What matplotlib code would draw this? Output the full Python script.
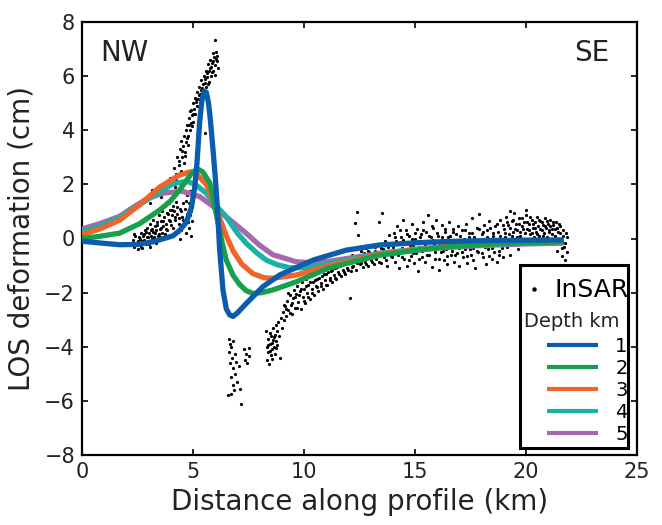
import matplotlib
matplotlib.use("Agg")
import matplotlib.pyplot as plt
from matplotlib.patches import Rectangle

plt.rcParams['font.family'] = ['DejaVu Sans']

# ---------------- data ----------------
depth_labels = ['1', '2', '3', '4', '5']
depth_colors = ['#0b5cad', '#17a04b', '#f0642a', '#19b2a6', '#a469ae']

depth1_x = [0, 1.0, 1.7, 2.5, 3.2, 3.7, 4.1, 4.4, 4.7, 4.93, 5.08, 5.18, 5.3, 5.4, 5.5, 5.6, 5.7, 5.78, 5.9, 6.0, 6.1, 6.2, 6.35, 6.5, 6.65, 6.8, 7.0, 7.4, 8.15, 8.9, 10.4, 11.9, 13.4, 15.0, 16.4, 18.0, 20.0, 21.7]
depth1_y = [-0.1, -0.18, -0.23, -0.22, -0.12, 0.0, 0.1, 0.3, 0.6, 1.15, 1.9, 2.8, 4.3, 5.1, 5.45, 5.4, 5.0, 4.4, 3.3, 2.3, 1.1, -0.4, -1.9, -2.6, -2.82, -2.88, -2.75, -2.4, -1.78, -1.35, -0.8, -0.43, -0.24, -0.16, -0.11, -0.08, -0.06, -0.05]

depth2_x = [0, 0.8, 1.7, 2.6, 3.5, 4.0, 4.4, 4.93, 5.2, 5.45, 5.76, 6.06, 6.3, 6.5, 6.8, 7.1, 7.4, 7.7, 8.1, 8.6, 9.65, 11.15, 13.4, 15.0, 16.4, 18.0, 20.0, 21.7]
depth2_y = [0.0, 0.08, 0.2, 0.55, 1.05, 1.4, 1.8, 2.4, 2.58, 2.45, 2.05, 0.85, -0.1, -0.8, -1.35, -1.7, -1.93, -2.03, -2.0, -1.9, -1.6, -1.08, -0.62, -0.44, -0.32, -0.22, -0.15, -0.12]

depth3_x = [0, 0.8, 1.7, 2.6, 3.5, 4.4, 4.9, 5.2, 5.6, 5.9, 6.2, 6.5, 6.8, 7.2, 7.7, 8.2, 8.6, 9.65, 11.15, 13.4, 15.0, 16.4, 18.0, 20.0, 21.7]
depth3_y = [0.15, 0.35, 0.68, 1.25, 1.9, 2.35, 2.47, 2.35, 2.0, 1.4, 0.75, 0.1, -0.45, -0.95, -1.3, -1.45, -1.47, -1.35, -1.0, -0.58, -0.42, -0.3, -0.21, -0.15, -0.12]

depth4_x = [0, 0.8, 1.7, 2.6, 3.2, 4.1, 4.7, 5.1, 5.6, 6.0, 6.5, 7.0, 7.4, 7.9, 8.3, 8.8, 9.35, 10.2, 11.15, 13.4, 15.0, 16.4, 18.0, 20.0, 21.7]
depth4_y = [0.25, 0.45, 0.78, 1.25, 1.58, 2.02, 2.12, 2.0, 1.67, 1.25, 0.8, 0.2, -0.18, -0.55, -0.8, -0.97, -1.08, -1.08, -0.93, -0.55, -0.4, -0.3, -0.22, -0.16, -0.13]

depth5_x = [0, 0.8, 1.7, 2.3, 2.9, 3.6, 4.5, 5.3, 5.8, 6.2, 6.8, 7.4, 8.0, 8.6, 9.65, 10.4, 11.15, 13.4, 15.0, 16.4, 18.0, 20.0, 21.7]
depth5_y = [0.35, 0.55, 0.82, 1.15, 1.45, 1.67, 1.75, 1.55, 1.25, 0.99, 0.6, 0.19, -0.25, -0.6, -0.86, -0.9, -0.84, -0.55, -0.42, -0.33, -0.26, -0.2, -0.17]

# InSAR points (x km, y cm)
insar_west = [
    (2.30,-0.05),(2.35,-0.30),(2.40,0.10),(2.45,-0.15),(2.50,-0.40),(2.55,0.05),(2.60,-0.25),(2.65,0.20),
    (2.70,-0.10),(2.72,-0.35),(2.78,0.15),(2.80,-0.05),(2.85,0.30),(2.88,-0.20),(2.92,0.05),(2.95,0.40),
    (3.00,-0.10),(3.02,0.20),(3.05,-0.30),(3.08,0.55),(3.10,0.10),(3.15,0.35),(3.18,-0.05),(3.20,0.25),
    (3.22,0.70),(3.25,0.05),(3.30,0.45),(3.32,-0.15),(3.35,0.30),(3.40,0.60),(3.42,0.10),(3.45,0.85),
    (3.50,0.35),(3.52,0.05),(3.55,0.65),(3.60,0.20),(3.62,1.00),(3.65,0.45),(3.70,0.80),(3.72,0.15),
    (3.75,1.20),(3.80,0.55),(3.82,0.95),(3.85,0.30),(3.90,1.30),(3.92,0.70),(3.95,1.05),(4.00,0.50),
    (4.02,1.50),(4.05,0.85),(4.10,1.20),(4.12,0.40),(4.15,1.00),(4.20,0.70),(4.25,1.35),(4.30,0.90),
    (4.35,0.55),(4.40,1.10),(3.15,1.80),(2.95,1.45),(3.55,1.55),(3.95,2.25),(3.05,1.30),
    (4.45,0.30),(4.50,0.80),(4.55,1.30),(4.60,0.55),(4.65,1.10),(4.70,0.20),(4.72,1.60),(4.75,0.90),
    (4.80,1.30),(4.82,0.40),(4.85,1.75),(4.90,1.00),(4.92,0.10),(4.95,0.65),(4.40,0.00),
    (2.33,0.15),(2.42,-0.25),(2.52,-0.10),(2.62,0.00),(2.68,-0.30),(2.75,0.10),(2.83,-0.15),(2.90,0.25),
    (2.98,0.05),(3.03,-0.20),(3.12,0.30),(3.17,0.00),(3.27,0.20),(3.37,0.50),(3.47,0.15),(3.57,0.40),
    (3.67,0.65),(3.77,0.35),(3.87,0.90),(3.97,0.65),(4.07,1.05),(4.17,0.80),(4.27,1.15),(4.37,0.75),
    (4.47,1.00),(4.57,0.70),(4.67,1.40),(4.77,0.60),(4.87,0.85),
]
insar_peak = [
    (4.10,2.20),(4.15,2.60),(4.20,1.90),(4.25,2.40),(4.30,3.00),(4.32,2.10),(4.38,2.70),(4.40,3.30),
    (4.45,2.50),(4.48,3.60),(4.50,3.00),(4.55,3.40),(4.58,2.80),(4.60,3.80),(4.65,3.20),(4.68,4.00),
    (4.70,3.55),(4.75,4.20),(4.78,3.80),(4.80,4.45),(4.85,4.00),(4.88,4.70),(4.90,4.25),(4.95,4.55),
    (4.98,5.00),(5.00,4.30),(5.05,4.80),(5.08,5.20),(5.10,4.60),(5.15,5.05),(5.18,5.40),(5.20,4.90),
    (5.25,5.30),(5.28,5.60),(5.30,5.10),(5.35,5.50),(5.38,5.85),(5.40,5.25),(5.45,5.70),(5.48,6.00),
    (5.50,5.40),(5.55,5.90),(5.58,6.20),(5.60,5.60),(5.65,6.10),(5.68,6.45),(5.70,5.80),(5.75,6.30),
    (5.78,6.60),(5.80,6.00),(5.85,6.50),(5.88,6.85),(5.90,6.20),(5.95,6.70),(5.98,7.33),(6.00,6.40),
    (6.05,6.90),(6.08,6.55),(6.10,6.75),(6.12,6.30),(5.53,3.90),
    (4.22,2.15),(4.35,2.85),(4.42,2.35),(4.52,3.25),(4.62,3.05),(4.72,3.70),(4.82,4.20),(4.92,4.75),
    (5.02,4.60),(5.12,5.15),(5.22,5.15),(5.32,5.35),(5.42,5.55),(5.52,5.75),(5.62,5.95),(5.72,6.20),
    (5.82,6.35),(5.92,6.55),(6.02,6.65),(5.87,6.15),(5.97,6.05),(5.67,5.70),(5.47,5.35),(4.97,4.15),
    (4.77,3.45),
]
insar_trough = [
    (6.60,-3.70),(6.62,-4.20),(6.65,-3.90),(6.68,-4.60),(6.70,-5.10),(6.72,-4.00),(6.75,-4.40),(6.78,-5.40),
    (6.80,-3.80),(6.82,-4.80),(6.85,-5.60),(6.88,-4.25),(6.90,-5.00),(6.95,-4.55),(7.00,-5.30),(7.05,-4.70),
    (7.10,-5.55),(7.18,-6.12),(7.30,-4.10),(7.35,-4.50),(7.40,-4.25),(7.45,-4.60),(7.50,-4.05),(7.52,-4.35),
    (6.58,-5.80),(6.70,-5.75),
    (8.30,-3.40),(8.32,-4.00),(8.35,-4.50),(8.38,-3.70),(8.40,-4.20),(8.42,-4.65),(8.45,-3.50),(8.48,-3.90),
    (8.50,-4.30),(8.52,-3.60),(8.55,-4.10),(8.58,-4.45),(8.60,-3.75),(8.62,-3.30),(8.65,-4.00),(8.68,-3.55),
    (8.70,-4.25),(8.72,-3.20),(8.75,-3.80),(8.78,-3.40),(8.80,-3.95),(8.85,-3.10),(8.88,-3.60),(8.90,-4.40),
    (8.95,-2.95),(9.00,-3.30),(8.36,-3.95),(8.46,-4.15),(8.56,-3.85),(8.66,-3.65),(8.76,-4.05),
]
insar_rise = [
    (9.05,-2.70),(9.10,-3.00),(9.15,-2.50),(9.20,-2.85),(9.25,-2.30),(9.30,-2.65),(9.35,-2.10),(9.40,-2.45),
    (9.45,-2.80),(9.50,-2.20),(9.55,-1.90),(9.60,-2.55),(9.65,-2.05),(9.70,-1.75),(9.75,-2.35),(9.80,-1.95),
    (9.85,-2.60),(9.90,-1.60),(9.95,-2.15),(10.00,-1.85),(10.05,-2.40),(10.10,-1.50),(10.15,-2.00),(10.20,-1.70),
    (10.25,-2.25),(10.30,-1.40),(10.35,-1.85),(10.40,-1.60),(10.45,-2.10),(10.50,-1.30),(10.55,-1.75),(10.60,-1.50),
    (10.65,-1.95),(10.70,-1.20),(10.75,-1.65),(10.80,-1.40),(10.85,-1.85),(10.90,-1.10),(10.95,-1.55),(11.00,-1.30),
    (11.05,-1.70),(11.10,-1.00),(11.15,-1.45),(11.20,-1.20),(11.25,-1.60),(11.30,-0.90),(11.35,-1.35),(11.40,-1.10),
    (11.45,-1.50),(11.50,-0.85),(11.55,-1.25),(11.60,-1.00),(11.65,-1.40),(11.70,-0.75),(11.75,-1.15),(11.80,-0.95),
    (11.85,-1.30),(11.90,-0.70),(11.95,-1.10),(12.00,-0.85),(12.05,-2.20),(12.10,-1.20),(12.15,-0.60),(12.20,-1.00),
    (12.25,-0.80),(12.30,0.57),(12.35,-1.15),(12.40,0.98),(12.42,0.13),(12.45,-0.65),(12.50,-0.95),(12.55,-0.45),
    (12.60,-0.80),(12.65,-1.05),(12.70,-0.55),(12.75,-0.85),(12.80,-0.35),(12.85,-0.70),(12.90,-1.00),(12.95,-0.50),
    (13.00,-0.80),(13.05,-0.25),(13.10,-0.65),(13.15,-0.95),(13.20,-0.45),(13.25,-0.75),(13.30,-0.20),(13.35,-0.60),
    (13.40,0.60),(13.45,-0.90),(13.50,0.94),(13.55,-0.40),(13.60,-0.70),(13.65,-0.10),(13.70,-0.55),(13.75,-1.00),
    (13.80,-0.30),(13.85,0.13),(13.90,-0.65),(13.95,-0.20),
    (9.08,-2.45),(9.18,-2.60),(9.28,-2.00),(9.38,-2.75),(9.48,-2.40),(9.58,-2.15),(9.68,-2.55),(9.78,-2.10),
    (9.88,-1.85),(9.98,-2.30),(10.08,-1.75),(10.18,-2.15),(10.28,-1.60),(10.38,-2.00),(10.48,-1.55),(10.58,-1.80),
    (10.68,-1.45),(10.78,-1.75),(10.88,-1.30),(10.98,-1.70),(11.08,-1.25),(11.18,-1.55),(11.28,-1.15),(11.38,-1.45),
    (11.48,-1.05),(11.58,-1.30),(11.68,-0.95),(11.78,-1.25),(11.88,-0.90),(11.98,-1.15),(12.08,-0.75),(12.18,-1.05),
    (12.28,-0.70),(12.38,-0.90),(12.48,-0.60),(12.58,-0.90),(12.68,-0.70),(12.78,-0.95),(12.88,-0.45),(12.98,-0.65),
    (13.08,-0.85),(13.18,-0.30),(13.28,-0.55),(13.38,-0.85),(13.48,-0.35),(13.58,-0.50),(13.68,-0.80),(13.78,-0.15),
    (13.88,-0.45),(13.98,-0.70),
]
insar_east = [
    (14.00,-0.50),(14.05,0.20),(14.10,-0.85),(14.15,-0.10),(14.20,0.45),(14.25,-0.60),(14.30,-1.10),(14.35,0.05),
    (14.40,-0.35),(14.45,0.70),(14.50,-0.75),(14.55,-0.15),(14.60,0.30),(14.65,-1.00),(14.70,-0.45),(14.75,0.10),
    (14.80,-0.65),(14.85,0.55),(14.90,-0.25),(14.95,-0.90),(15.00,0.00),(15.05,-0.55),(15.10,0.35),(15.15,-1.20),
    (15.20,-0.30),(15.25,0.15),(15.30,-0.70),(15.35,0.60),(15.40,-0.10),(15.45,-0.85),(15.50,0.25),(15.55,-0.40),
    (15.60,0.85),(15.65,-0.60),(15.70,0.05),(15.75,-1.05),(15.80,0.40),(15.85,-0.20),(15.90,-0.75),(15.95,0.70),
    (16.00,-0.35),(16.05,0.10),(16.10,-1.15),(16.15,-0.50),(16.20,0.50),(16.25,-0.05),(16.30,-0.80),(16.35,0.25),
    (16.40,-0.40),(16.45,-0.95),(16.50,0.05),(16.55,0.60),(16.60,-0.60),(16.65,-0.15),(16.70,0.35),(16.75,-0.85),
    (16.80,-0.30),(16.85,0.15),(16.90,-0.55),(16.95,0.45),(17.00,-1.00),(17.05,-0.10),(17.10,0.30),(17.15,-0.70),
    (17.20,0.00),(17.25,-0.40),(17.30,0.55),(17.35,-0.90),(17.40,-0.20),(17.45,0.20),(17.50,-0.60),(17.55,0.75),
    (17.60,-0.35),(17.65,0.05),(17.70,-1.10),(17.75,-0.15),(17.80,0.40),(17.85,-0.50),(17.90,0.90),(17.95,-0.25),
    (18.00,0.15),(18.05,-0.70),(18.10,0.50),(18.15,-0.05),(18.20,-0.95),(18.25,0.30),(18.30,-0.40),(18.35,0.65),
    (18.40,-0.15),(18.45,-0.75),
    (18.50,0.10),(18.55,-0.50),(18.60,0.45),(18.65,-0.20),(18.70,-0.85),(18.75,0.25),(18.80,-0.45),(18.85,0.70),
    (18.90,-0.10),(18.95,-0.70),(19.00,0.35),(19.05,0.05),(19.10,0.80),(19.15,-0.30),(19.20,0.50),(19.25,0.15),
    (19.30,-0.60),(19.35,0.65),(19.40,0.25),(19.45,0.95),(19.50,-0.05),(19.55,0.55),(19.60,0.30),(19.65,-0.40),
    (19.70,0.75),(19.75,0.10),(19.80,0.45),(19.85,-0.15),(19.90,0.60),(19.95,0.20),(20.00,0.85),(20.05,0.35),
    (20.10,-0.10),(20.15,0.55),(20.20,0.15),(20.25,0.70),(20.30,0.40),(20.35,0.05),(20.40,0.60),(20.45,0.25),
    (20.50,0.80),(20.55,0.45),(20.60,0.10),(20.65,0.65),(20.70,0.30),(20.75,0.50),(20.80,0.20),(20.85,0.75),
    (20.90,0.40),(20.95,0.05),(21.00,0.55),(21.05,0.30),(21.10,0.70),(21.15,0.15),(21.20,0.50),(21.25,-0.20),
    (21.30,0.35),(21.35,0.60),(21.40,-0.45),(21.45,0.25),(21.50,-0.10),(21.55,0.45),(21.60,-0.65),(21.65,0.10),
    (21.70,-0.30),(21.75,-0.80),(21.80,0.20),(21.85,-0.50),(20.00,1.05),(19.30,1.00),
    (14.03,-0.30),(14.12,0.05),(14.18,-0.55),(14.27,-0.20),(14.33,0.30),(14.42,-0.70),(14.48,-0.05),(14.57,-0.45),
    (14.63,0.15),(14.72,-0.80),(14.78,-0.25),(14.87,0.00),(14.93,-0.55),(15.02,0.20),(15.08,-0.35),(15.17,-0.75),
    (15.23,0.05),(15.32,-0.45),(15.38,0.30),(15.47,-0.20),(15.53,-0.60),(15.62,0.10),(15.68,-0.40),(15.77,0.45),
    (15.83,-0.05),(15.92,-0.50),(15.98,0.20),(16.07,-0.75),(16.13,-0.20),(16.22,0.05),(16.28,-0.45),(16.37,0.35),
    (16.43,-0.65),(16.52,-0.25),(16.58,0.10),(16.67,-0.45),(16.73,0.25),(16.82,-0.60),(16.88,-0.05),(16.97,-0.35),
    (17.03,0.10),(17.12,-0.50),(17.18,-0.15),(17.27,0.30),(17.33,-0.65),(17.42,0.05),(17.48,-0.40),(17.57,0.20),
    (17.63,-0.80),(17.72,-0.05),(17.78,-0.45),(17.87,0.35),(17.93,-0.10),(18.02,-0.55),(18.08,0.25),(18.17,-0.30),
    (18.23,0.05),(18.32,-0.65),(18.38,0.40),(18.47,-0.35),(18.53,0.20),(18.62,-0.25),(18.68,0.55),(18.77,-0.60),
    (18.83,0.10),(18.92,-0.35),(18.98,0.50),(19.07,0.20),(19.13,0.60),(19.22,-0.15),(19.28,0.40),(19.37,0.10),
    (19.43,0.70),(19.52,0.35),(19.58,0.05),(19.67,0.55),(19.73,0.25),(19.82,0.75),(19.88,0.35),(19.97,0.00),
    (20.03,0.60),(20.12,0.30),(20.18,0.80),(20.27,0.20),(20.33,0.55),(20.42,0.40),(20.48,0.15),(20.57,0.70),
    (20.63,0.35),(20.72,0.60),(20.78,0.10),(20.87,0.45),(20.93,0.65),(21.02,0.25),(21.08,0.45),(21.17,0.35),
    (21.23,0.60),(21.32,0.10),(21.38,0.40),(21.47,0.55),(21.53,0.20),(21.62,-0.35),(21.68,0.30),(21.77,-0.15),
    (21.83,0.05),
]

x_ticks = [0, 5, 10, 15, 20, 25]
y_ticks = [-8, -6, -4, -2, 0, 2, 4, 6, 8]

# ---------------- figure ----------------
fig = plt.figure(figsize=(6.62, 5.25), dpi=100)
ax = fig.add_axes([82/662, 70/525, 555/662, 433/525])

insar_all = insar_west + insar_peak + insar_trough + insar_rise + insar_east
ix = [p[0] for p in insar_all]
iy = [p[1] for p in insar_all]
h_insar, = ax.plot(ix, iy, 'o', color='black', ms=2.3, mew=0, linestyle='none', zorder=2, label='InSAR')

curves_x = [depth1_x, depth2_x, depth3_x, depth4_x, depth5_x]
curves_y = [depth1_y, depth2_y, depth3_y, depth4_y, depth5_y]
handles = []
for i in range(4, -1, -1):
    h, = ax.plot(curves_x[i], curves_y[i], color=depth_colors[i], lw=3.8,
                 solid_capstyle='butt', solid_joinstyle='round', zorder=3 + (4 - i))
    handles.append(h)
handles = handles[::-1]

ax.set_xlim(0, 25)
ax.set_ylim(-8, 8)
ax.set_xticks(x_ticks)
ax.set_yticks(y_ticks)
ax.set_yticklabels(['\u2212%d' % abs(v) if v < 0 else str(v) for v in y_ticks])
ax.tick_params(direction='in', length=4, width=1.2, top=True, right=True, labelsize=15, pad=5,
               labelcolor='#222222')
for s in ax.spines.values():
    s.set_linewidth(1.6)

ax.set_xlabel('Distance along profile (km)', fontsize=20, color='#222222', labelpad=4)
ax.set_ylabel('LOS deformation (cm)', fontsize=20, color='#222222', labelpad=6)

ax.text(0.81, 6.85, 'NW', fontsize=20, ha='left', va='center', color='#222222')
ax.text(23.74, 6.85, 'SE', fontsize=20, ha='right', va='center', color='#222222')

# legend frame
ax.add_patch(Rectangle((0.789, 0.016), 0.195, 0.423, transform=ax.transAxes,
                       facecolor='white', edgecolor='black', lw=2.2, zorder=10))
leg1 = ax.legend([h_insar], ['InSAR'], loc='center left', bbox_to_anchor=(0.8, 0.38),
                 frameon=False, fontsize=18, handlelength=0.6, handletextpad=0.55,
                 markerscale=1.4, borderpad=0, borderaxespad=0)
leg1.set_zorder(11)
ax.add_artist(leg1)
ax.text(0.797, 0.309, 'Depth km', transform=ax.transAxes, fontsize=14, ha='left', va='center',
        color='#222222', zorder=11)
leg2 = ax.legend(handles, depth_labels, loc='upper left', bbox_to_anchor=(0.838, 0.272),
                 frameon=False, fontsize=14, handlelength=2.6, handletextpad=0.9,
                 labelspacing=0.15, borderpad=0, borderaxespad=0)
for lh in leg2.get_lines():
    lh.set_linewidth(3.0)
leg2.set_zorder(11)

fig.savefig('out.png', dpi=100)
